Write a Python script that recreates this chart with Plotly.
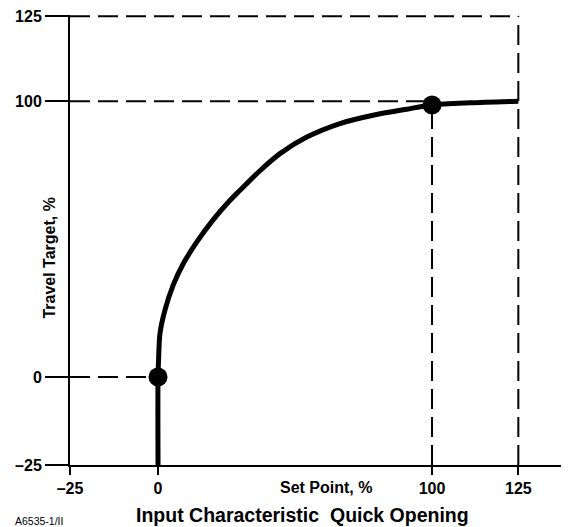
import plotly.graph_objects as go

# ---- data ----
curve_x = [0, 0, 0.2, 0.7, 2.5, 5.6, 9.1, 14.1, 20.1, 26.3, 29.9, 37.2, 44.5, 54.3, 66.4, 78.5, 90.8, 100, 111, 125]
curve_y = [-25, 0, 6.2, 15.7, 24.2, 33.5, 40.9, 48.9, 57.0, 64.1, 67.7, 74.8, 81.0, 87.0, 91.9, 94.9, 97.1, 98.6, 99.4, 100]
point_x = [0, 100]
point_y = [0, 98.6]
tick_values = [-25, 0, 100, 125]
tick_labels = ["\u201325", "0", "100", "125"]

# reference lines (value units)
ref_h = [([-25, 125], [125, 125]), ([-25, 100], [100, 100]), ([-25, 0], [0, 0])]
ref_v = [([125, 125], [-25, 125]), ([100, 100], [-25, 98.6])]

# ---- broken (stretched) scale of the schematic: outer 25% segments drawn wider ----
X_LO, X_HI = 1.285, 1.26
Y_LO, Y_HI = 1.275, 1.232

def sx(v):
    if v < 0:
        return v * X_LO
    if v > 100:
        return 100 + (v - 100) * X_HI
    return v

def sy(v):
    if v < 0:
        return v * Y_LO
    if v > 100:
        return 100 + (v - 100) * Y_HI
    return v

FONT = "Liberation Sans, Arial, Helvetica, sans-serif"
fig = go.Figure()

dash = "20px,8px"
for xs, ys in ref_h + ref_v:
    fig.add_trace(go.Scatter(x=[sx(v) for v in xs], y=[sy(v) for v in ys], mode="lines",
                             line=dict(color="black", width=2, dash=dash),
                             hoverinfo="skip", showlegend=False))

fig.add_trace(go.Scatter(x=[sx(v) for v in curve_x], y=[sy(v) for v in curve_y], mode="lines",
                         line=dict(color="black", width=5, shape="spline", smoothing=0.8),
                         showlegend=False))
fig.add_trace(go.Scatter(x=[sx(v) for v in point_x], y=[sy(v) for v in point_y], mode="markers",
                         marker=dict(color="black", size=19), showlegend=False))

xr = [sx(-25), sx(-25) + 499 / 2.74]
yr = [sy(-25), sy(125) + 0.45]

tfont = dict(family=FONT, size=16, color="black", weight="bold")

# the page body adds an 8px offset, so the figure is 8px smaller and shifted accordingly
fig.update_layout(
    width=561, height=519,
    margin=dict(l=62, r=0, t=7, b=62),
    plot_bgcolor="white", paper_bgcolor="white",
    font=tfont,
    xaxis=dict(range=xr, showgrid=False, zeroline=False, showline=True, linecolor="black", linewidth=2,
               ticks="outside", ticklen=8, tickwidth=2, tickcolor="black", ticklabeloverflow="allow",
               tickvals=[sx(v) for v in tick_values], ticktext=tick_labels, tickfont=tfont),
    yaxis=dict(range=yr, showgrid=False, zeroline=False, showline=True, linecolor="black", linewidth=2,
               ticks="outside", ticklen=23, tickwidth=2, tickcolor="black", ticklabeloverflow="allow",
               tickvals=[sy(v) for v in tick_values], ticktext=tick_labels, tickfont=tfont),
    annotations=[
        dict(text="Travel Target, %", x=-0.04, y=0.461, xref="paper", yref="paper", textangle=-90,
             showarrow=False, xanchor="center", yanchor="middle", font=tfont),
        dict(text="Set Point, %", x=0.513, y=-0.049, xref="paper", yref="paper",
             showarrow=False, xanchor="center", yanchor="middle", font=tfont),
        dict(text="Input Characteristic  Quick Opening", x=0.465, y=-0.111, xref="paper", yref="paper",
             showarrow=False, xanchor="center", yanchor="middle",
             font=dict(family=FONT, size=19.5, color="black", weight="bold")),
        dict(text="A6535-1/II", x=-0.114, y=-0.125, xref="paper", yref="paper",
             showarrow=False, xanchor="left", yanchor="middle",
             font=dict(family=FONT, size=10.5, color="black", weight="normal")),
    ],
)

fig.write_html("out.html")
